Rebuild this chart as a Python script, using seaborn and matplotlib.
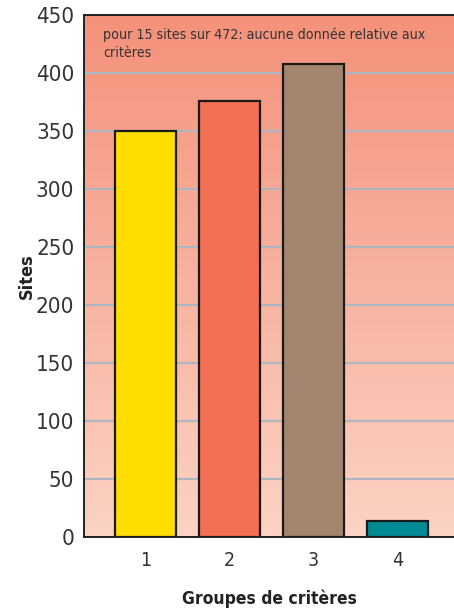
import numpy as np
import pandas as pd
import matplotlib
matplotlib.use("Agg")
import matplotlib.pyplot as plt
from matplotlib.colors import LinearSegmentedColormap
import seaborn as sns

# data
groups = ["1", "2", "3", "4"]
sites = [350, 376, 408, 14]
bar_colors = ["#FFDD00", "#F37055", "#A3846E", "#008B94"]
note = "pour 15 sites sur 472: aucune donnée relative aux\ncritères"

sns.set_style("white")
plt.rcParams['font.family'] = ['DejaVu Sans']
plt.rcParams['font.stretch'] = 'condensed'

df = pd.DataFrame({"groupe": groups, "sites": sites})

fig = plt.figure(figsize=(4.54, 6.12), dpi=100)
ax = fig.add_axes([0.185, 0.1225, 0.815, 0.853])

# background gradient
grad = LinearSegmentedColormap.from_list("bg", ["#FCD3C4", "#F4917A"])
ax.imshow(np.linspace(0, 1, 256).reshape(-1, 1), cmap=grad, origin="lower",
          extent=[-0.73, 3.67, 0, 450], aspect="auto", zorder=0)

for y in range(50, 450, 50):
    ax.axhline(y, color="#AEB6C2", lw=1.6, zorder=1)

sns.barplot(data=df, x="groupe", y="sites", hue="groupe", palette=bar_colors,
            saturation=1, legend=False, width=0.72, edgecolor="#1a1a1a",
            linewidth=1.6, zorder=2, ax=ax)

ax.set_xlim(-0.73, 3.67)
ax.set_ylim(0, 450)
ax.set_yticks(range(0, 451, 50))
ax.tick_params(axis="y", labelsize=16, length=0, pad=7, colors="#333333")
ax.tick_params(axis="x", labelsize=14, length=0, pad=10, colors="#333333")
ax.set_ylabel("Sites", fontsize=13, fontweight="bold", color="#222222")
ax.yaxis.set_label_coords(-0.13, 0.5)
ax.set_xlabel("Groupes de critères", fontsize=12.5, fontweight="bold",
              color="#222222", labelpad=14)

for side in ["left", "bottom", "top"]:
    ax.spines[side].set_color("#222222")
    ax.spines[side].set_linewidth(1.4)
ax.spines["right"].set_visible(False)

ax.text(-0.5, 439, note, fontsize=10.2, color="#333333", va="top", ha="left",
        linespacing=1.35, zorder=3)

fig.savefig("out.png", dpi=100)
